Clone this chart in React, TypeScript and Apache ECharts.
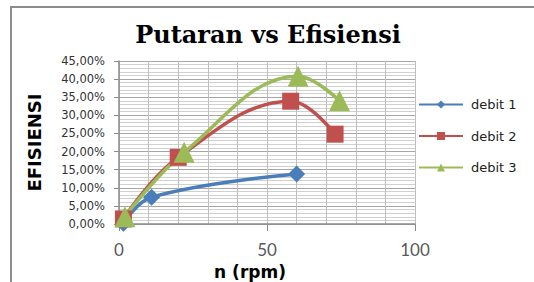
import React, { useEffect, useRef } from "react";
import * as echarts from "echarts";

const seriesNames = ["debit 1", "debit 2", "debit 3"];
const debit1: [number, number][] = [[1.5, 0.002], [11, 0.074], [60, 0.138]];
const debit2: [number, number][] = [[1.5, 0.014], [20, 0.184], [58, 0.339], [73, 0.248]];
const debit3: [number, number][] = [[2, 0.02], [22, 0.198], [60.5, 0.408], [74.5, 0.34]];
const colors = ["#4A7EBB", "#C0504D", "#9BBB59"];
const symbols = ["diamond", "rect", "triangle"];
const symbolSizes = [17, 17, 21];

export default function App() {
  const ref = useRef<HTMLDivElement>(null);
  useEffect(() => {
    document.body.style.margin = "0";
    const chart = echarts.init(ref.current!, undefined, { renderer: "svg" });
    const data = [debit1, debit2, debit3];
    chart.setOption({
      animation: false,
      backgroundColor: "#fff",
      title: {
        text: "Putaran vs Efisiensi",
        left: 263,
        textAlign: "center",
        top: 17,
        textStyle: { fontFamily: "DejaVu Serif", fontWeight: "bold", fontSize: 24, color: "#000" },
      },
      graphic: [
        {
          type: "rect",
          shape: { x: 11, y: 7, width: 600, height: 400 },
          style: { fill: "none", stroke: "#8c8c8c", lineWidth: 2 },
          silent: true,
        },
      ],
      legend: {
        orient: "vertical",
        left: 413,
        top: 93,
        itemWidth: 44,
        itemHeight: 10,
        itemGap: 18.5,
        textStyle: { fontFamily: "DejaVu Sans", fontSize: 13, color: "#222", padding: [0, 0, 0, 3] },
        data: seriesNames,
      },
      grid: { left: 119, right: 119, top: 61, bottom: 58, containLabel: false, outerBoundsMode: "none" },
      xAxis: {
        type: "value",
        min: 0,
        max: 100,
        interval: 50,
        name: "n (rpm)",
        nameLocation: "middle",
        nameGap: 39,
        nameMoveOverlap: false,
        nameTextStyle: { fontFamily: "DejaVu Sans", fontWeight: "bold", fontSize: 17, color: "#000", padding: [0, 34, 0, 0] },
        axisLine: { show: true, lineStyle: { color: "#8c8c8c", width: 1.5 } },
        axisTick: { show: true, length: 7, lineStyle: { color: "#8c8c8c" } },
        axisLabel: { fontFamily: "Lato", fontSize: 17, color: "#595959", margin: 17 },
        splitLine: { show: true, lineStyle: { color: "#bfbfbf", width: 1 } },
        minorTick: { show: false, splitNumber: 5 },
        minorSplitLine: { show: true, lineStyle: { color: "#bfbfbf", width: 1 } },
      },
      yAxis: {
        type: "value",
        min: 0,
        max: 0.45,
        interval: 0.05,
        name: "EFISIENSI",
        nameLocation: "middle",
        nameGap: 76,
        nameMoveOverlap: false,
        nameTextStyle: { fontFamily: "DejaVu Sans", fontWeight: "bold", fontSize: 18, color: "#000" },
        axisLine: { show: true, lineStyle: { color: "#8c8c8c", width: 1.5 } },
        axisTick: { show: true, length: 5, lineStyle: { color: "#8c8c8c" } },
        axisLabel: {
          fontFamily: "DejaVu Sans",
          fontSize: 11.5,
          color: "#333",
          margin: 14,
          formatter: (v: number) => (v * 100).toFixed(2).replace(".", ",") + "%",
        },
        splitLine: { show: true, lineStyle: { color: "#a6a6a6", width: 1 } },
        minorTick: { show: false, splitNumber: 5 },
        minorSplitLine: { show: true, lineStyle: { color: "#d0d0d0", width: 1 } },
      },
      series: seriesNames.map((name, i) => ({
        name,
        type: "line",
        data: data[i],
        smooth: 0.4,
        symbol: symbols[i],
        symbolSize: symbolSizes[i],
        color: colors[i],
        lineStyle: { width: 3.5, color: colors[i] },
        itemStyle: { color: colors[i] },
      })),
    });
    return () => chart.dispose();
  }, []);
  return <div ref={ref} style={{ width: 534, height: 282 }} />;
}
